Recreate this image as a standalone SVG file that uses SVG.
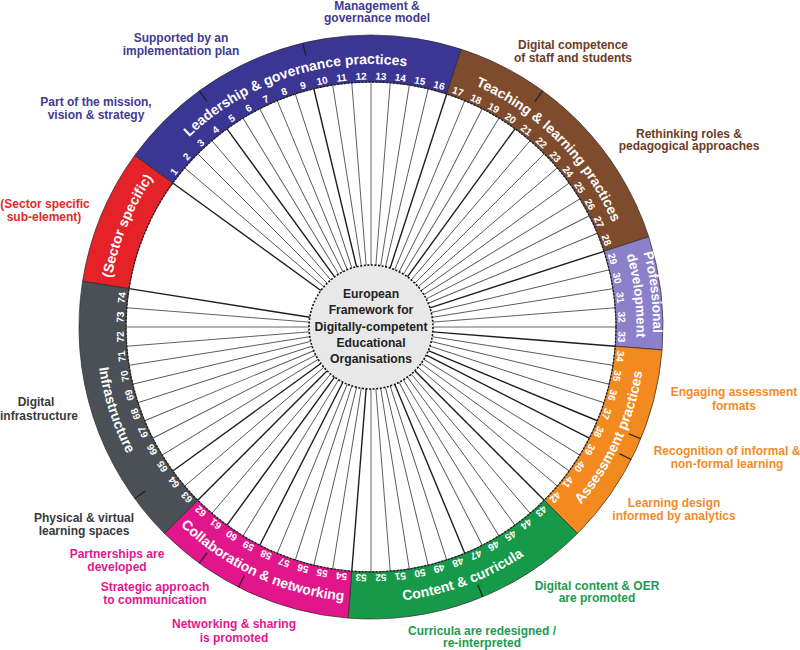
<svg xmlns="http://www.w3.org/2000/svg" xmlns:xlink="http://www.w3.org/1999/xlink" width="800" height="650" viewBox="0 0 800 650">
<style>
.seg{stroke:#2a2a2a;stroke-width:0.7}
.rt{font-family:"Liberation Sans",Arial,sans-serif;font-weight:bold;font-size:14px;fill:#fff}
.rs{font-size:13.5px}
.num{font-family:"Liberation Sans",Arial,sans-serif;font-weight:bold;font-size:10px;fill:#fff;text-anchor:middle;dominant-baseline:central}
.lab{font-family:"Liberation Sans",Arial,sans-serif;font-weight:bold;font-size:12px;text-anchor:middle}
.sp{stroke:#555;stroke-width:0.9}
.spd{stroke:#1e1e1e;stroke-width:1.4}
.tick{stroke:#1e1e1e;stroke-width:1.2}
.ctr{font-family:"Liberation Sans",Arial,sans-serif;font-weight:bold;font-size:12.2px;fill:#222;text-anchor:middle}
</style>
<defs>
<path id="pBlue" d="M160.96,168.72 A263,263 0 0 1 447.89,75.49"/>
<path id="pBrown" d="M439.07,72.96 A263,263 0 0 1 625.04,258.93"/>
<path id="pRed" d="M107.25,315.48 A264,264 0 0 1 176.36,148.64"/>
<path id="pProf" d="M622.38,197.32 A281.5,281.5 0 0 1 644.99,391.41"/>
<path id="pDev" d="M608.13,207.50 A265.5,265.5 0 0 1 629.43,387.86"/>
<path id="pOrange" d="M548.50,537.05 A274,274 0 0 0 646.00,325.80"/>
<path id="pGreen" d="M324.43,598.03 A274,274 0 0 0 582.42,502.87"/>
<path id="pMag" d="M146.42,485.72 A274,274 0 0 0 396.16,600.85"/>
<path id="pGrey" d="M98.05,293.49 A274,274 0 0 0 169.88,514.55"/>
</defs>
<rect width="800" height="650" fill="#fff"/>

<g id="connectors">
<g class="sp">
<line x1="371" y1="82" x2="371" y2="265" transform="rotate(-49.5 371 327)"/>
<line x1="371" y1="82" x2="371" y2="265" transform="rotate(-45 371 327)"/>
<line x1="371" y1="82" x2="371" y2="265" transform="rotate(-40.5 371 327)"/>
<line x1="371" y1="82" x2="371" y2="265" transform="rotate(-31.5 371 327)"/>
<line x1="371" y1="82" x2="371" y2="265" transform="rotate(-27 371 327)"/>
<line x1="371" y1="82" x2="371" y2="265" transform="rotate(-22.5 371 327)"/>
<line x1="371" y1="82" x2="371" y2="265" transform="rotate(-18 371 327)"/>
<line x1="371" y1="82" x2="371" y2="265" transform="rotate(-9 371 327)"/>
<line x1="371" y1="82" x2="371" y2="265" transform="rotate(-4.5 371 327)"/>
<line x1="371" y1="82" x2="371" y2="265" transform="rotate(0 371 327)"/>
<line x1="371" y1="82" x2="371" y2="265" transform="rotate(4.5 371 327)"/>
<line x1="371" y1="82" x2="371" y2="265" transform="rotate(9 371 327)"/>
<line x1="371" y1="82" x2="371" y2="265" transform="rotate(13.5 371 327)"/>
<line x1="371" y1="82" x2="371" y2="265" transform="rotate(22.5 371 327)"/>
<line x1="371" y1="82" x2="371" y2="265" transform="rotate(27 371 327)"/>
<line x1="371" y1="82" x2="371" y2="265" transform="rotate(31.5 371 327)"/>
<line x1="371" y1="82" x2="371" y2="265" transform="rotate(40.5 371 327)"/>
<line x1="371" y1="82" x2="371" y2="265" transform="rotate(45 371 327)"/>
<line x1="371" y1="82" x2="371" y2="265" transform="rotate(49.5 371 327)"/>
<line x1="371" y1="82" x2="371" y2="265" transform="rotate(54 371 327)"/>
<line x1="371" y1="82" x2="371" y2="265" transform="rotate(58.5 371 327)"/>
<line x1="371" y1="82" x2="371" y2="265" transform="rotate(63 371 327)"/>
<line x1="371" y1="82" x2="371" y2="265" transform="rotate(67.5 371 327)"/>
<line x1="371" y1="82" x2="371" y2="265" transform="rotate(76.5 371 327)"/>
<line x1="371" y1="82" x2="371" y2="265" transform="rotate(81 371 327)"/>
<line x1="371" y1="82" x2="371" y2="265" transform="rotate(85.5 371 327)"/>
<line x1="371" y1="82" x2="371" y2="265" transform="rotate(90 371 327)"/>
<line x1="371" y1="82" x2="371" y2="265" transform="rotate(99 371 327)"/>
<line x1="371" y1="82" x2="371" y2="265" transform="rotate(103.5 371 327)"/>
<line x1="371" y1="82" x2="371" y2="265" transform="rotate(108 371 327)"/>
<line x1="371" y1="82" x2="371" y2="265" transform="rotate(121.5 371 327)"/>
<line x1="371" y1="82" x2="371" y2="265" transform="rotate(126 371 327)"/>
<line x1="371" y1="82" x2="371" y2="265" transform="rotate(130.5 371 327)"/>
<line x1="371" y1="82" x2="371" y2="265" transform="rotate(139.5 371 327)"/>
<line x1="371" y1="82" x2="371" y2="265" transform="rotate(144 371 327)"/>
<line x1="371" y1="82" x2="371" y2="265" transform="rotate(148.5 371 327)"/>
<line x1="371" y1="82" x2="371" y2="265" transform="rotate(153 371 327)"/>
<line x1="371" y1="82" x2="371" y2="265" transform="rotate(162 371 327)"/>
<line x1="371" y1="82" x2="371" y2="265" transform="rotate(166.5 371 327)"/>
<line x1="371" y1="82" x2="371" y2="265" transform="rotate(171 371 327)"/>
<line x1="371" y1="82" x2="371" y2="265" transform="rotate(175.5 371 327)"/>
<line x1="371" y1="82" x2="371" y2="265" transform="rotate(180 371 327)"/>
<line x1="371" y1="82" x2="371" y2="265" transform="rotate(189 371 327)"/>
<line x1="371" y1="82" x2="371" y2="265" transform="rotate(193.5 371 327)"/>
<line x1="371" y1="82" x2="371" y2="265" transform="rotate(198 371 327)"/>
<line x1="371" y1="82" x2="371" y2="265" transform="rotate(202.5 371 327)"/>
<line x1="371" y1="82" x2="371" y2="265" transform="rotate(211.5 371 327)"/>
<line x1="371" y1="82" x2="371" y2="265" transform="rotate(220.5 371 327)"/>
<line x1="371" y1="82" x2="371" y2="265" transform="rotate(229.5 371 327)"/>
<line x1="371" y1="82" x2="371" y2="265" transform="rotate(238.5 371 327)"/>
<line x1="371" y1="82" x2="371" y2="265" transform="rotate(243 371 327)"/>
<line x1="371" y1="82" x2="371" y2="265" transform="rotate(247.5 371 327)"/>
<line x1="371" y1="82" x2="371" y2="265" transform="rotate(252 371 327)"/>
<line x1="371" y1="82" x2="371" y2="265" transform="rotate(256.5 371 327)"/>
<line x1="371" y1="82" x2="371" y2="265" transform="rotate(261 371 327)"/>
<line x1="371" y1="82" x2="371" y2="265" transform="rotate(265.5 371 327)"/>
<line x1="371" y1="82" x2="371" y2="265" transform="rotate(270 371 327)"/>
<line x1="371" y1="82" x2="371" y2="265" transform="rotate(274.5 371 327)"/>
</g>
<g class="spd">
<line x1="371" y1="82" x2="371" y2="265" transform="rotate(-54 371 327)"/>
<line x1="371" y1="82" x2="371" y2="265" transform="rotate(-36 371 327)"/>
<line x1="371" y1="82" x2="371" y2="265" transform="rotate(-13.5 371 327)"/>
<line x1="371" y1="82" x2="371" y2="265" transform="rotate(18 371 327)"/>
<line x1="371" y1="82" x2="371" y2="265" transform="rotate(36 371 327)"/>
<line x1="371" y1="82" x2="371" y2="265" transform="rotate(72 371 327)"/>
<line x1="371" y1="82" x2="371" y2="265" transform="rotate(94.5 371 327)"/>
<line x1="371" y1="82" x2="371" y2="265" transform="rotate(112.5 371 327)"/>
<line x1="371" y1="82" x2="371" y2="265" transform="rotate(117 371 327)"/>
<line x1="371" y1="82" x2="371" y2="265" transform="rotate(135 371 327)"/>
<line x1="371" y1="82" x2="371" y2="265" transform="rotate(157.5 371 327)"/>
<line x1="371" y1="82" x2="371" y2="265" transform="rotate(184.5 371 327)"/>
<line x1="371" y1="82" x2="371" y2="265" transform="rotate(207 371 327)"/>
<line x1="371" y1="82" x2="371" y2="265" transform="rotate(216 371 327)"/>
<line x1="371" y1="82" x2="371" y2="265" transform="rotate(225 371 327)"/>
<line x1="371" y1="82" x2="371" y2="265" transform="rotate(234 371 327)"/>
<line x1="371" y1="82" x2="371" y2="265" transform="rotate(279 371 327)"/>
</g>
</g>

<g id="seg-sector">
<path class="seg" fill="#e52228" d="M82.59,281.32 A292,292 0 0 1 134.77,155.37 L172.79,182.99 A245,245 0 0 0 129.02,288.67 Z"/>
<text class="rt"><textPath xlink:href="#pRed" href="#pRed" startOffset="50%" text-anchor="middle">(Sector specific)</textPath></text>
</g>
<g id="seg-leadership">
<path class="seg" fill="#3b3594" d="M134.77,155.37 A292,292 0 0 1 461.23,49.29 L446.71,93.99 A245,245 0 0 0 172.79,182.99 Z"/>
<text class="rt"><textPath xlink:href="#pBlue" href="#pBlue" startOffset="50%" text-anchor="middle">Leadership &amp; governance practices</textPath></text>
</g>
<g id="seg-teaching">
<path class="seg" fill="#7e4b2d" d="M461.23,49.29 A292,292 0 0 1 648.71,236.77 L604.01,251.29 A245,245 0 0 0 446.71,93.99 Z"/>
<text class="rt"><textPath xlink:href="#pBrown" href="#pBrown" startOffset="50%" text-anchor="middle">Teaching &amp; learning practices</textPath></text>
</g>
<g id="seg-professional">
<path class="seg" fill="#8b80c9" d="M648.71,236.77 A292,292 0 0 1 662.10,349.91 L615.25,346.22 A245,245 0 0 0 604.01,251.29 Z"/>
<text class="rt rs"><textPath xlink:href="#pProf" href="#pProf" startOffset="50%" text-anchor="middle">Professional</textPath></text>
<text class="rt rs"><textPath xlink:href="#pDev" href="#pDev" startOffset="50%" text-anchor="middle">development</textPath></text>
</g>
<g id="seg-assessment">
<path class="seg" fill="#f28a1f" d="M662.10,349.91 A292,292 0 0 1 577.48,533.48 L544.24,500.24 A245,245 0 0 0 615.25,346.22 Z"/>
<text class="rt"><textPath xlink:href="#pOrange" href="#pOrange" startOffset="50%" text-anchor="middle">Assessment practices</textPath></text>
</g>
<g id="seg-content">
<path class="seg" fill="#169a49" d="M577.48,533.48 A292,292 0 0 1 348.09,618.10 L351.78,571.25 A245,245 0 0 0 544.24,500.24 Z"/>
<text class="rt"><textPath xlink:href="#pGreen" href="#pGreen" startOffset="50%" text-anchor="middle">Content &amp; curricula</textPath></text>
</g>
<g id="seg-collaboration">
<path class="seg" fill="#e1168b" d="M348.09,618.10 A292,292 0 0 1 164.52,533.48 L197.76,500.24 A245,245 0 0 0 351.78,571.25 Z"/>
<text class="rt"><textPath xlink:href="#pMag" href="#pMag" startOffset="50%" text-anchor="middle">Collaboration &amp; networking</textPath></text>
</g>
<g id="seg-infrastructure">
<path class="seg" fill="#4a5055" d="M164.52,533.48 A292,292 0 0 1 82.59,281.32 L129.02,288.67 A245,245 0 0 0 197.76,500.24 Z"/>
<text class="rt"><textPath xlink:href="#pGrey" href="#pGrey" startOffset="50%" text-anchor="middle">Infrastructure</textPath></text>
</g>

<circle cx="371" cy="327" r="245" fill="none" stroke="#1e1e1e" stroke-width="1.3" stroke-dasharray="2 1.5"/>

<g id="ticks" class="tick">
<line x1="371" y1="35" x2="371" y2="48" transform="rotate(-36 371 327)"/>
<line x1="371" y1="35" x2="371" y2="48" transform="rotate(-13.5 371 327)"/>
<line x1="371" y1="35" x2="371" y2="48" transform="rotate(36 371 327)"/>
<line x1="371" y1="35" x2="371" y2="48" transform="rotate(112.5 371 327)"/>
<line x1="371" y1="35" x2="371" y2="48" transform="rotate(117 371 327)"/>
<line x1="371" y1="35" x2="371" y2="48" transform="rotate(157.5 371 327)"/>
<line x1="371" y1="35" x2="371" y2="48" transform="rotate(207 371 327)"/>
<line x1="371" y1="35" x2="371" y2="48" transform="rotate(216 371 327)"/>
<line x1="371" y1="35" x2="371" y2="48" transform="rotate(234 371 327)"/>
</g>

<g id="numbers" class="num">
<text x="371" y="76" transform="rotate(-51.75 371 327)">1</text>
<text x="371" y="76" transform="rotate(-47.25 371 327)">2</text>
<text x="371" y="76" transform="rotate(-42.75 371 327)">3</text>
<text x="371" y="76" transform="rotate(-38.25 371 327)">4</text>
<text x="371" y="76" transform="rotate(-33.75 371 327)">5</text>
<text x="371" y="76" transform="rotate(-29.25 371 327)">6</text>
<text x="371" y="76" transform="rotate(-24.75 371 327)">7</text>
<text x="371" y="76" transform="rotate(-20.25 371 327)">8</text>
<text x="371" y="76" transform="rotate(-15.75 371 327)">9</text>
<text x="371" y="76" transform="rotate(-11.25 371 327)">10</text>
<text x="371" y="76" transform="rotate(-6.75 371 327)">11</text>
<text x="371" y="76" transform="rotate(-2.25 371 327)">12</text>
<text x="371" y="76" transform="rotate(2.25 371 327)">13</text>
<text x="371" y="76" transform="rotate(6.75 371 327)">14</text>
<text x="371" y="76" transform="rotate(11.25 371 327)">15</text>
<text x="371" y="76" transform="rotate(15.75 371 327)">16</text>
<text x="371" y="76" transform="rotate(20.25 371 327)">17</text>
<text x="371" y="76" transform="rotate(24.75 371 327)">18</text>
<text x="371" y="76" transform="rotate(29.25 371 327)">19</text>
<text x="371" y="76" transform="rotate(33.75 371 327)">20</text>
<text x="371" y="76" transform="rotate(38.25 371 327)">21</text>
<text x="371" y="76" transform="rotate(42.75 371 327)">22</text>
<text x="371" y="76" transform="rotate(47.25 371 327)">23</text>
<text x="371" y="76" transform="rotate(51.75 371 327)">24</text>
<text x="371" y="76" transform="rotate(56.25 371 327)">25</text>
<text x="371" y="76" transform="rotate(60.75 371 327)">26</text>
<text x="371" y="76" transform="rotate(65.25 371 327)">27</text>
<text x="371" y="76" transform="rotate(69.75 371 327)">28</text>
<text x="371" y="76" transform="rotate(74.25 371 327)">29</text>
<text x="371" y="76" transform="rotate(78.75 371 327)">30</text>
<text x="371" y="76" transform="rotate(83.25 371 327)">31</text>
<text x="371" y="76" transform="rotate(87.75 371 327)">32</text>
<text x="371" y="76" transform="rotate(92.25 371 327)">33</text>
<text x="371" y="76" transform="rotate(96.75 371 327)">34</text>
<text x="371" y="76" transform="rotate(101.25 371 327)">35</text>
<text x="371" y="76" transform="rotate(105.75 371 327)">36</text>
<text x="371" y="76" transform="rotate(110.25 371 327)">37</text>
<text x="371" y="76" transform="rotate(114.75 371 327)">38</text>
<text x="371" y="76" transform="rotate(119.25 371 327)">39</text>
<text x="371" y="76" transform="rotate(123.75 371 327)">40</text>
<text x="371" y="76" transform="rotate(128.25 371 327)">41</text>
<text x="371" y="76" transform="rotate(132.75 371 327)">42</text>
<text x="371" y="76" transform="rotate(137.25 371 327)">43</text>
<text x="371" y="76" transform="rotate(141.75 371 327)">44</text>
<text x="371" y="76" transform="rotate(146.25 371 327)">45</text>
<text x="371" y="76" transform="rotate(150.75 371 327)">46</text>
<text x="371" y="76" transform="rotate(155.25 371 327)">47</text>
<text x="371" y="76" transform="rotate(159.75 371 327)">48</text>
<text x="371" y="76" transform="rotate(164.25 371 327)">49</text>
<text x="371" y="76" transform="rotate(168.75 371 327)">50</text>
<text x="371" y="76" transform="rotate(173.25 371 327)">51</text>
<text x="371" y="76" transform="rotate(177.75 371 327)">52</text>
<text x="371" y="76" transform="rotate(182.25 371 327)">53</text>
<text x="371" y="76" transform="rotate(186.75 371 327)">54</text>
<text x="371" y="76" transform="rotate(191.25 371 327)">55</text>
<text x="371" y="76" transform="rotate(195.75 371 327)">56</text>
<text x="371" y="76" transform="rotate(200.25 371 327)">57</text>
<text x="371" y="76" transform="rotate(204.75 371 327)">58</text>
<text x="371" y="76" transform="rotate(209.25 371 327)">59</text>
<text x="371" y="76" transform="rotate(213.75 371 327)">60</text>
<text x="371" y="76" transform="rotate(218.25 371 327)">61</text>
<text x="371" y="76" transform="rotate(222.75 371 327)">62</text>
<text x="371" y="76" transform="rotate(227.25 371 327)">63</text>
<text x="371" y="76" transform="rotate(231.75 371 327)">64</text>
<text x="371" y="76" transform="rotate(236.25 371 327)">65</text>
<text x="371" y="76" transform="rotate(240.75 371 327)">66</text>
<text x="371" y="76" transform="rotate(245.25 371 327)">67</text>
<text x="371" y="76" transform="rotate(249.75 371 327)">68</text>
<text x="371" y="76" transform="rotate(254.25 371 327)">69</text>
<text x="371" y="76" transform="rotate(258.75 371 327)">70</text>
<text x="371" y="76" transform="rotate(263.25 371 327)">71</text>
<text x="371" y="76" transform="rotate(267.75 371 327)">72</text>
<text x="371" y="76" transform="rotate(272.25 371 327)">73</text>
<text x="371" y="76" transform="rotate(276.75 371 327)">74</text>
</g>

<g id="center">
<circle cx="371" cy="327" r="62" fill="#e8e8e8" stroke="#111" stroke-width="1.6" stroke-dasharray="2 1.6"/>
<text class="ctr" x="371" y="298">European<tspan x="371" dy="16">Framework for</tspan><tspan x="371" dy="16.5">Digitally-competent</tspan><tspan x="371" dy="16">Educational</tspan><tspan x="371" dy="16">Organisations</tspan></text>
</g>

<g id="labels" class="lab">
<g fill="#3f3b8f">
<text x="377" y="10">Management &amp;<tspan x="377" dy="12">governance model</tspan></text>
<text x="181" y="42">Supported by an<tspan x="181" dy="13">implementation plan</tspan></text>
<text x="96" y="106">Part of the mission,<tspan x="96" dy="13">vision &amp; strategy</tspan></text>
</g>
<g fill="#e8272a">
<text x="45" y="208">(Sector specific<tspan x="44" dy="13">sub-element)</tspan></text>
</g>
<g fill="#6e3b26">
<text x="573" y="49">Digital competence<tspan x="573" dy="13">of staff and students</tspan></text>
<text x="689" y="138">Rethinking roles &amp;<tspan x="689" dy="12">pedagogical approaches</tspan></text>
</g>
<g fill="#f08c28">
<text x="734" y="396">Engaging assessment<tspan x="734" dy="14">formats</tspan></text>
<text x="727" y="455">Recognition of informal &amp;<tspan x="727" dy="13">non-formal learning</tspan></text>
<text x="674" y="507">Learning design<tspan x="674" dy="13">informed by analytics</tspan></text>
</g>
<g fill="#1e9a50">
<text x="597" y="590">Digital content &amp; OER<tspan x="597" dy="12">are promoted</tspan></text>
<text x="482" y="635">Curricula are redesigned /<tspan x="482" dy="12">re-interpreted</tspan></text>
</g>
<g fill="#e2178f">
<text x="234" y="628">Networking &amp; sharing<tspan x="234" dy="14">is promoted</tspan></text>
<text x="155" y="591">Strategic approach<tspan x="155" dy="13">to communication</tspan></text>
<text x="117" y="558">Partnerships are<tspan x="117" dy="13">developed</tspan></text>
</g>
<g fill="#3a3a3a">
<text x="84" y="522">Physical &amp; virtual<tspan x="84" dy="13">learning spaces</tspan></text>
<text x="36" y="406">Digital<tspan x="39" dy="14">infrastructure</tspan></text>
</g>
</g>
</svg>
